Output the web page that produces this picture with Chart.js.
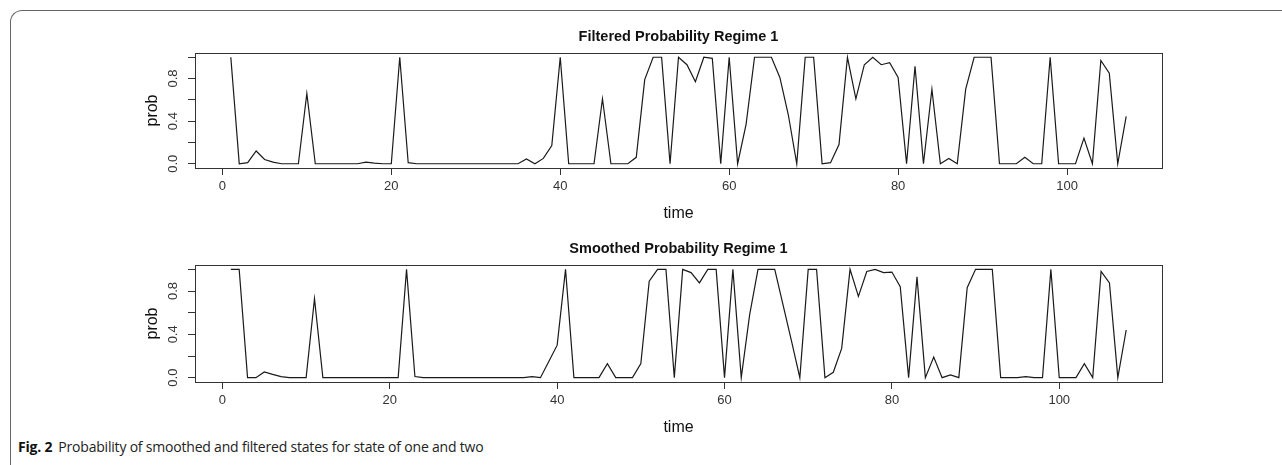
<!DOCTYPE html>
<html>
<head>
<meta charset="utf-8">
<script src="https://cdn.jsdelivr.net/npm/chart.js@4.4.1/dist/chart.umd.min.js"></script>
<style>
  html, body { margin: 0; padding: 0; background: #fff; }
  body { width: 1282px; height: 465px; position: relative; overflow: hidden; }
  .frame {
    position: absolute; left: 10px; top: 10px; width: 1400px; height: 600px;
    border-top: 1px solid #666; border-left: 1px solid #666;
    border-top-left-radius: 12px; box-sizing: border-box;
  }
  .panel { position: absolute; left: 0; width: 1282px; }
  #top { top: 20px; height: 203px; }
  #bottom { top: 232px; height: 205px; }
  .caption {
    position: absolute; left: 18px; top: 437px;
    font-family: "Open Sans", "Noto Sans", sans-serif; font-size: 14px;
    color: #222; letter-spacing: -0.2px; white-space: nowrap;
  }
  .caption b { color: #111; margin-right: 6px; }
</style>
</head>
<body>
<div class="frame"></div>
<div class="panel" id="top"><canvas id="filteredChart"></canvas></div>
<div class="panel" id="bottom"><canvas id="smoothedChart"></canvas></div>
<div class="caption"><b>Fig. 2</b>Probability of smoothed and filtered states for state of one and two</div>

<script>
(function(){
  // values, t = 1..n
  const filteredProb = [
    1.00, 0.00, 0.01, 0.12, 0.04, 0.015, 0.00, 0.00, 0.00, 0.66,
    0.00, 0.00, 0.00, 0.00, 0.00, 0.00, 0.015, 0.005, 0.00, 0.00,
    1.00, 0.01, 0.00, 0.00, 0.00, 0.00, 0.00, 0.00, 0.00, 0.00,
    0.00, 0.00, 0.00, 0.00, 0.00, 0.045, 0.00, 0.05, 0.17, 1.00,
    0.00, 0.00, 0.00, 0.00, 0.61, 0.00, 0.00, 0.00, 0.06, 0.79,
    1.00, 1.00, 0.00, 1.00, 0.93, 0.77, 1.00, 0.99, 0.00, 1.00,
    0.00, 0.37, 1.00, 1.00, 1.00, 0.81, 0.46, 0.00, 1.00, 1.00,
    0.00, 0.01, 0.18, 1.00, 0.61, 0.93, 1.00, 0.93, 0.95, 0.81,
    0.00, 0.915, 0.00, 0.70, 0.00, 0.05, 0.00, 0.70, 1.00, 1.00,
    1.00, 0.00, 0.00, 0.00, 0.06, 0.00, 0.00, 1.00, 0.00, 0.00,
    0.00, 0.24, 0.00, 0.97, 0.85, 0.00, 0.445
  ];
  const smoothedProb = [
    1.00, 1.00, 0.00, 0.00, 0.053, 0.03, 0.01, 0.00, 0.00, 0.00,
    0.73, 0.00, 0.00, 0.00, 0.00, 0.00, 0.00, 0.00, 0.00, 0.00,
    0.00, 1.00, 0.01, 0.00, 0.00, 0.00, 0.00, 0.00, 0.00, 0.00,
    0.00, 0.00, 0.00, 0.00, 0.00, 0.00, 0.01, 0.00, 0.15, 0.30,
    1.00, 0.00, 0.00, 0.00, 0.00, 0.13, 0.00, 0.00, 0.00, 0.13,
    0.89, 1.00, 1.00, 0.00, 1.00, 0.97, 0.875, 1.00, 1.00, 0.00,
    1.00, 0.00, 0.58, 1.00, 1.00, 1.00, 0.67, 0.34, 0.00, 1.00,
    1.00, 0.00, 0.05, 0.27, 1.00, 0.75, 0.98, 1.00, 0.97, 0.975,
    0.84, 0.00, 0.93, 0.00, 0.19, 0.00, 0.025, 0.00, 0.83, 1.00,
    1.00, 1.00, 0.00, 0.00, 0.00, 0.01, 0.00, 0.00, 1.00, 0.00,
    0.00, 0.00, 0.13, 0.00, 0.98, 0.875, 0.00, 0.44
  ];
  const xTicks = [0, 20, 40, 60, 80, 100];
  const yTicks = [0, 0.2, 0.4, 0.6, 0.8, 1.0];
  const yTickLabels = { 0: '0.0', 0.4: '0.4', 0.8: '0.8' };

  const AXIS_FONT = '"Liberation Sans", Arial, sans-serif';
  const INK = '#1a1a1a';

  // R-style box, panel title and vertical y tick labels
  const rFrame = {
    id: 'rFrame',
    afterDraw(chart, args, opts) {
      const { ctx, chartArea: a, scales } = chart;
      ctx.save();
      ctx.strokeStyle = '#333';
      ctx.lineWidth = 1;
      ctx.strokeRect(Math.round(a.left) + 0.5, Math.round(a.top) + 0.5,
        Math.round(a.width), Math.round(a.height));

      ctx.fillStyle = '#111';
      ctx.font = 'bold 14.5px ' + AXIS_FONT;
      ctx.textAlign = 'center';
      ctx.textBaseline = 'middle';
      ctx.fillText(opts.title, (a.left + a.right) / 2, a.top - 16);

      ctx.font = '13px ' + AXIS_FONT;
      ctx.fillStyle = '#333';
      yTicks.forEach(v => {
        const lab = yTickLabels[v];
        if (!lab) return;
        const py = scales.y.getPixelForValue(v);
        ctx.save();
        ctx.translate(a.left - 22, py);
        ctx.rotate(-Math.PI / 2);
        ctx.fillText(lab, 0, 0);
        ctx.restore();
      });
      ctx.restore();
    }
  };

  function makeChart(id, probs, title) {
    const pts = probs.map((p, i) => ({ x: i + 1, y: p }));
    const n = probs.length;
    const pad = (n - 1) * 0.04;
    return new Chart(document.getElementById(id), {
      type: 'line',
      data: { datasets: [{
        data: pts, borderColor: INK, borderWidth: 1.2,
        pointRadius: 0, tension: 0, fill: false
      }] },
      options: {
        responsive: true, maintainAspectRatio: false, animation: false,
        layout: { padding: { left: 135, right: 120, top: 33, bottom: 0 } },
        plugins: { legend: { display: false }, tooltip: { enabled: false }, rFrame: { title } },
        scales: {
          x: {
            type: 'linear', min: 1 - pad, max: n + pad,
            afterBuildTicks: s => { s.ticks = xTicks.map(v => ({ value: v })); },
            afterFit: s => { s.height = 55; },
            border: { display: false },
            grid: { drawOnChartArea: false, drawTicks: true, tickLength: 7, color: '#333' },
            ticks: { color: '#333', padding: 4, maxRotation: 0, font: { family: AXIS_FONT, size: 13 } },
            title: { display: true, text: 'time', color: '#111', padding: { top: 0, bottom: 0 },
              font: { family: AXIS_FONT, size: 16 } }
          },
          y: {
            min: -0.04, max: 1.04,
            afterBuildTicks: s => { s.ticks = yTicks.map(v => ({ value: v })); },
            afterFit: s => { s.width = 60; },
            border: { display: false },
            grid: { drawOnChartArea: false, drawTicks: true, tickLength: 7, color: '#333' },
            ticks: { display: false },
            title: { display: true, text: 'prob', color: '#111', padding: { top: 8, bottom: 0 },
              font: { family: AXIS_FONT, size: 16 } }
          }
        }
      },
      plugins: [rFrame]
    });
  }

  makeChart('filteredChart', filteredProb, 'Filtered Probability Regime 1');
  makeChart('smoothedChart', smoothedProb, 'Smoothed Probability Regime 1');
})();
</script>
</body>
</html>
